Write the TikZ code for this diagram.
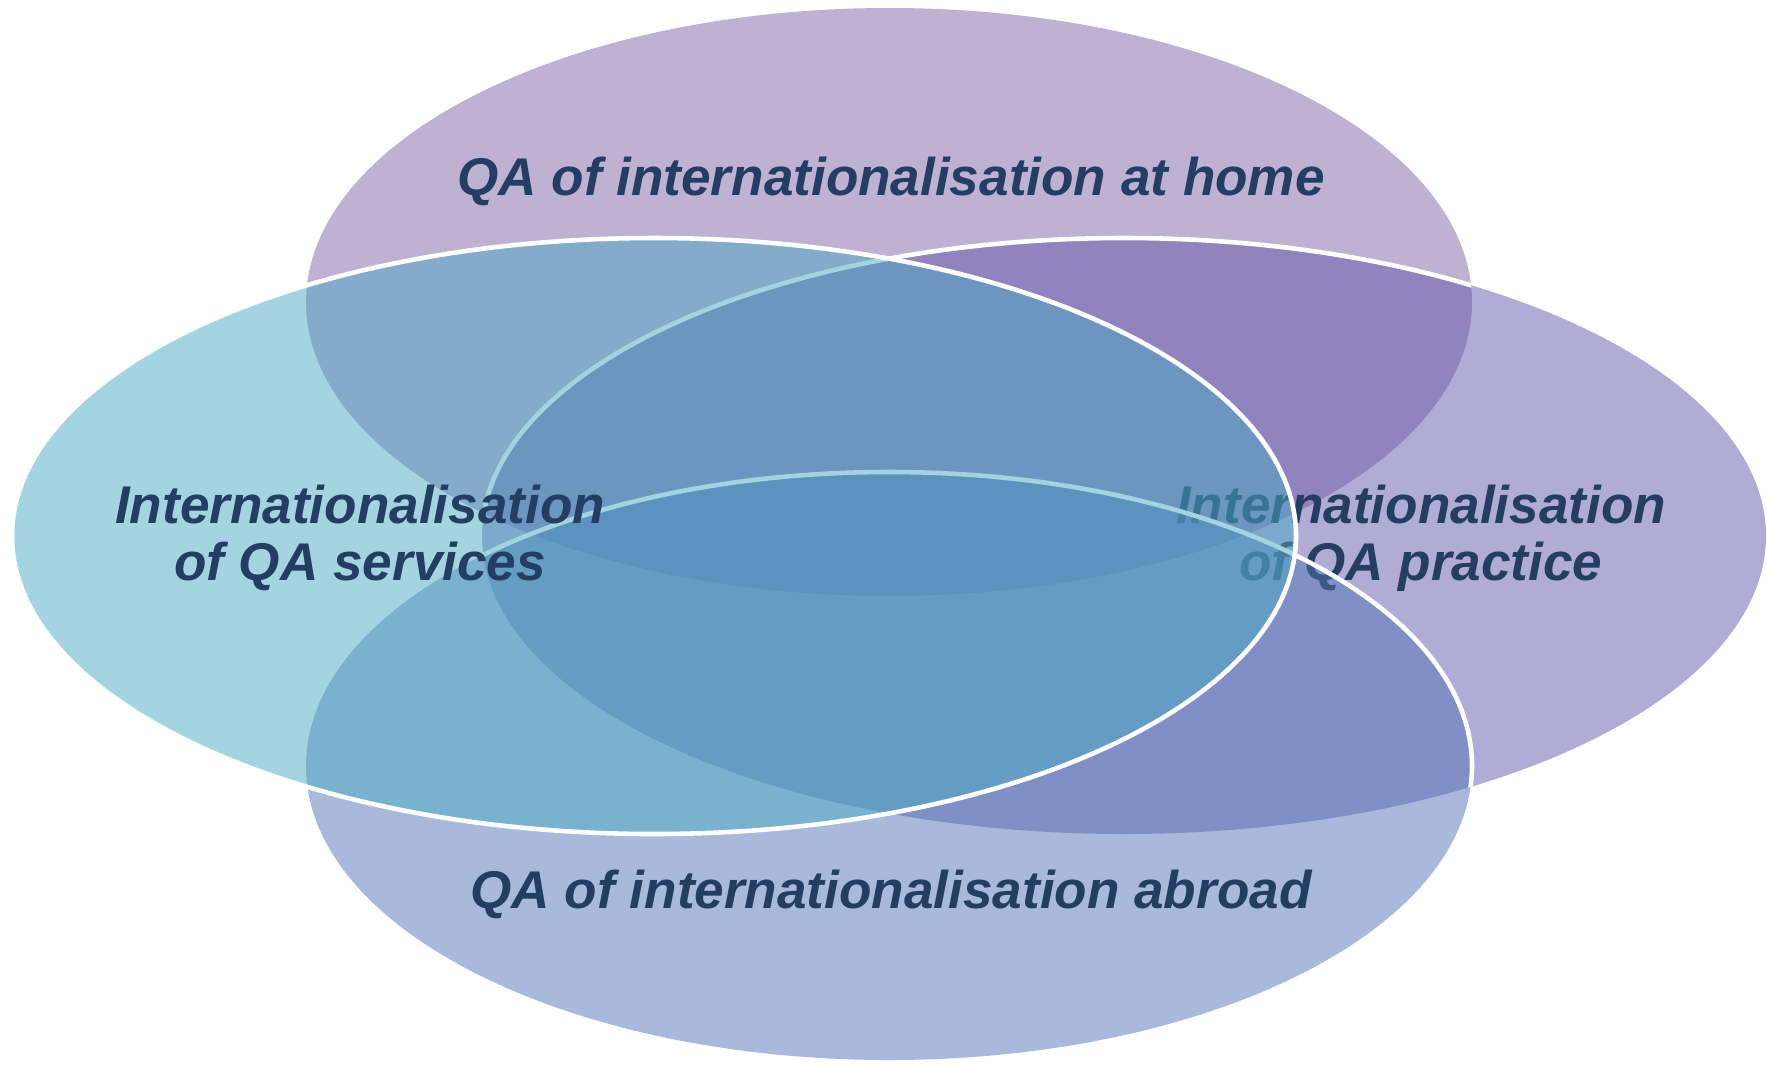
\documentclass[tikz,border=0pt]{standalone}
\usepackage{fontspec}
\setmainfont{Liberation Sans}
\definecolor{homepurple}{RGB}{127,99,165}
\definecolor{practicepurple}{RGB}{97,89,171}
\definecolor{abroadblue}{RGB}{81,115,183}
\definecolor{servicescyan}{RGB}{75,169,195}
\definecolor{labelnavy}{RGB}{35,62,98}

\begin{document}
\begin{tikzpicture}[x=0.01cm,y=-0.01cm,
    blob/.style={fill opacity=0.5},
    rim/.style={draw=white,line width=1.3pt},
    label/.style={text=labelnavy,inner sep=0pt,align=center,
      font=\fontsize{15.1}{16.2}\selectfont\bfseries\itshape}]

  \useasboundingbox (0,0) rectangle (1767,1066);

  \coordinate (home)     at (889,302);
  \coordinate (practice) at (1124,536);
  \coordinate (abroad)   at (889,766);
  \coordinate (services) at (654,536);

  % at home
  \fill[homepurple,blob] (home) ellipse [x radius=583,y radius=294];
  \node[label,anchor=base] (homelabel) at (891,195) {QA of internationalisation at home};

  % practice
  \fill[practicepurple,blob] (practice) ellipse [x radius=642,y radius=298];
  \begin{scope}
    \clip (home) ellipse [x radius=583,y radius=294];
    \draw[rim] (practice) ellipse [x radius=642,y radius=298];
  \end{scope}
  \node[label,anchor=north] (practicelabel) at (1421,484) {Internationalisation\\of QA practice};

  % abroad
  \fill[abroadblue,blob] (abroad) ellipse [x radius=583,y radius=294];
  \begin{scope}
    \clip (practice) ellipse [x radius=642,y radius=298];
    \draw[rim] (abroad) ellipse [x radius=583,y radius=294];
  \end{scope}
  \node[label,anchor=base] (abroadlabel) at (891,908) {QA of internationalisation abroad};

  % services
  \fill[servicescyan,blob] (services) ellipse [x radius=642,y radius=298];
  \draw[rim] (services) ellipse [x radius=642,y radius=298];
  \node[label,anchor=north] (serviceslabel) at (360,484) {Internationalisation\\of QA services};

\end{tikzpicture}
\end{document}
